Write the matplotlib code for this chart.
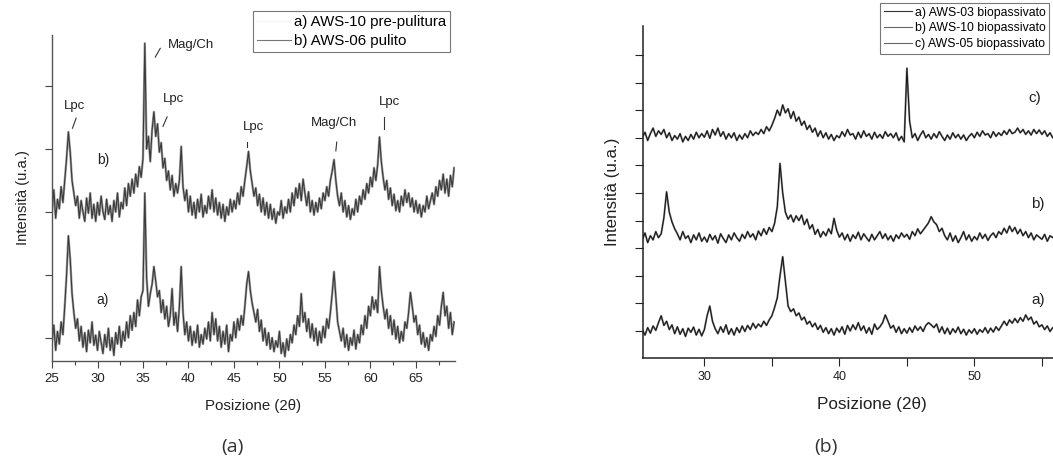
import numpy as np
import matplotlib.pyplot as plt
from matplotlib.lines import Line2D

plt.rcParams['font.family'] = ['Liberation Sans', 'DejaVu Sans']

# ---------------- dati (a): 25.0 -> 69.2, passo 0.2 ----------------
start_a = 25.0
step = 0.2
aws10_pre = [
    95, 120, 80, 110, 90,        # 25
    125, 105, 150, 200, 262,     # 26
    225, 170, 140, 115, 130,     # 27
    95, 118, 85, 108, 78,        # 28
    112, 92, 125, 88, 104,       # 29
    80, 110, 92, 75, 105,        # 30
    85, 115, 80, 100, 72,        # 31
    108, 90, 118, 85, 110,       # 32
    95, 125, 100, 135, 112,      # 33
    140, 118, 160, 135, 165,     # 34
    175, 330, 195, 150, 170,     # 35
    185, 213, 190, 165, 175,     # 36
    140, 160, 130, 150, 118,     # 37
    135, 178, 120, 140, 110,     # 38
    150, 213, 140, 105, 125,     # 39
    95, 118, 88, 110, 92,        # 40
    120, 85, 105, 90, 115,       # 41
    98, 125, 95, 140, 105,       # 42
    130, 95, 118, 85, 110,       # 43
    90, 120, 78, 105, 95,        # 44
    125, 100, 130, 112, 135,     # 45
    120, 150, 185, 205, 175,     # 46
    155, 140, 125, 145, 110,     # 47
    128, 95, 115, 88, 108,       # 48
    82, 100, 78, 95, 85,         # 49
    110, 75, 92, 70, 98,         # 50
    80, 105, 92, 120, 105,       # 51
    135, 118, 170, 125, 140,     # 52
    110, 130, 100, 122, 95,      # 53
    115, 88, 110, 92, 118,       # 54
    100, 130, 115, 140, 170,     # 55
    205, 165, 125, 110, 95,      # 56
    115, 85, 105, 80, 100,       # 57
    88, 112, 82, 105, 92,        # 58
    120, 105, 135, 115, 150,     # 59
    135, 165, 145, 160, 140,     # 60
    213, 175, 150, 130, 145,     # 61
    115, 135, 105, 128, 98,      # 62
    118, 92, 110, 95, 125,       # 63
    115, 140, 172, 150, 125,     # 64
    135, 105, 120, 90, 108,      # 65
    85, 100, 80, 105, 95,        # 66
    118, 102, 135, 120, 150,     # 67
    172, 135, 150, 115, 140,     # 68
    105, 125,                    # 69
]
aws06_pul = [
    300, 335, 290, 320, 305,     # 25
    340, 315, 350, 385, 427,     # 26
    395, 350, 330, 310, 325,     # 27
    290, 318, 300, 285, 322,     # 28
    298, 330, 290, 312, 285,     # 29
    315, 295, 325, 300, 288,     # 30
    320, 296, 310, 285, 318,     # 31
    300, 330, 292, 315, 305,     # 32
    338, 310, 345, 325, 352,     # 33
    330, 360, 340, 372, 355,     # 34
    385, 568, 400, 420, 380,     # 35
    430, 459, 420, 440, 395,     # 36
    410, 370, 385, 350, 365,     # 37
    335, 358, 325, 345, 330,     # 38
    350, 404, 340, 318, 335,     # 39
    300, 325, 295, 315, 290,     # 40
    320, 300, 328, 292, 310,     # 41
    298, 325, 305, 335, 300,     # 42
    322, 295, 315, 290, 312,     # 43
    285, 308, 295, 320, 300,     # 44
    318, 305, 330, 312, 340,     # 45
    325, 350, 372, 396, 365,     # 46
    345, 325, 338, 310, 328,     # 47
    300, 322, 295, 315, 290,     # 48
    312, 288, 305, 282, 300,     # 49
    295, 318, 290, 308, 298,     # 50
    320, 300, 330, 310, 338,     # 51
    322, 345, 318, 352, 330,     # 52
    310, 332, 300, 318, 295,     # 53
    315, 300, 322, 305, 330,     # 54
    318, 340, 325, 350, 365,     # 55
    383, 350, 325, 310, 330,     # 56
    300, 318, 292, 310, 288,     # 57
    305, 295, 320, 300, 325,     # 58
    312, 335, 320, 345, 330,     # 59
    355, 340, 370, 350, 375,     # 60
    419, 380, 355, 335, 350,     # 61
    320, 338, 310, 328, 302,     # 62
    318, 300, 325, 310, 335,     # 63
    315, 330, 308, 322, 300,     # 64
    318, 298, 312, 292, 310,     # 65
    300, 325, 305, 318, 330,     # 66
    312, 340, 325, 350, 335,     # 67
    360, 330, 352, 325, 358,     # 68
    340, 370,                    # 69
]
labels_a = ['a) AWS-10 pre-pulitura', 'b) AWS-06 pulito']
xticks_a = [25, 30, 35, 40, 45, 50, 55, 60, 65]
# picchi annotati: (testo, x testo, y testo, x1, y1, x2, y2)
peaks_a = [
    ('Lpc', 27.5, 468, 27.65, 449, 27.25, 433),
    ('Mag/Ch', 40.3, 565, 36.9, 560, 36.35, 546),
    ('Lpc', 38.3, 479, 37.65, 451, 37.2, 436),
    ('Lpc', 47.1, 435, 46.45, 411, 46.45, 403),
    ('Mag/Ch', 56.0, 441, 56.3, 411, 56.2, 397),
    ('Lpc', 62.1, 475, 61.5, 451, 61.5, 432),
]

# ---------------- dati (b): 25.4 -> 56.2, passo 0.2 ----------------
start_b = 25.4
aws03_bio = [
    5, -15, 12,                  # 25
    -8, 18, 2, 30, 55,           # 26
    20, 35, 5, 22, -10,          # 27
    15, -12, 8, -20, 10,         # 28
    -5, 14, -15, 6, -18,         # 29
    5, 55, 90, 35, 8,            # 30
    -10, 15, -5, 22, -12,        # 31
    8, -15, 12, -6, 18,          # 32
    -2, 20, 5, 28, 10,           # 33
    25, 15, 35, 20, 40,          # 34
    55, 85, 120, 200, 269,       # 35
    180, 90, 70, 80, 55,         # 36
    65, 40, 50, 25, 35,          # 37
    15, 28, 5, 20, -5,           # 38
    12, -10, 8, -15, 10,         # 39
    -5, 15, -12, 20, 0,          # 40
    22, 5, 30, 2, 18,            # 41
    -8, 12, -12, 25, 5,          # 42
    15, 30, 58, 35, 10,          # 43
    20, -5, 15, -10, 8,          # 44
    -8, 12, -5, 18, 2,           # 45
    15, -2, 20, 30, 22,          # 46
    12, 25, -5, 15, -10,         # 47
    10, -12, 8, -6, 14,          # 48
    -10, 6, -15, 4, -8,          # 49
    8, -12, 5, -5, 12,           # 50
    -8, 10, -4, 15, 2,           # 51
    18, 35, 20, 40, 28,          # 52
    45, 30, 48, 35, 58,          # 53
    40, 50, 25, 35, 15,          # 54
    22, 5, 18, -2, 12,           # 55
    5, 15,                       # 56
]
aws10_bio = [
    330, 355, 320,               # 25
    345, 330, 360, 338, 352,     # 26
    410, 504, 430, 395, 370,     # 27
    352, 330, 360, 335, 345,     # 28
    320, 348, 330, 355, 325,     # 29
    340, 322, 350, 330, 345,     # 30
    318, 352, 335, 320, 348,     # 31
    330, 355, 338, 325, 350,     # 32
    335, 360, 340, 352, 330,     # 33
    362, 345, 370, 350, 375,     # 34
    360, 390, 450, 607, 500,     # 35
    430, 405, 420, 395, 417,     # 36
    400, 420, 385, 405, 370,     # 37
    385, 350, 368, 340, 360,     # 38
    345, 370, 352, 408, 365,     # 39
    340, 355, 330, 350, 325,     # 40
    348, 335, 358, 330, 352,     # 41
    338, 325, 350, 330, 345,     # 42
    360, 335, 352, 330, 345,     # 43
    325, 348, 335, 355, 340,     # 44
    350, 332, 360, 345, 370,     # 45
    352, 365, 378, 392, 414,     # 46
    395, 385, 360, 372, 345,     # 47
    330, 355, 325, 345, 320,     # 48
    338, 360, 330, 348, 325,     # 49
    342, 330, 355, 335, 350,     # 50
    328, 345, 355, 338, 360,     # 51
    350, 372, 355, 380, 360,     # 52
    375, 352, 368, 345, 360,     # 53
    338, 355, 330, 348, 340,     # 54
    332, 350, 325, 345, 338,     # 55
    352, 335,                    # 56
]
aws05_bio = [
    700, 720, 690,               # 25
    715, 735, 705, 725, 712,     # 26
    730, 700, 718, 690, 708,     # 27
    695, 715, 685, 705, 690,     # 28
    712, 695, 720, 700, 715,     # 29
    702, 725, 698, 730, 710,     # 30
    735, 705, 722, 695, 715,     # 31
    700, 718, 690, 710, 695,     # 32
    715, 700, 725, 708, 720,     # 33
    712, 730, 715, 740, 725,     # 34
    745, 770, 800, 780, 819,     # 35
    790, 805, 770, 795, 760,     # 36
    775, 745, 760, 730, 745,     # 37
    720, 735, 705, 725, 700,     # 38
    718, 695, 712, 690, 708,     # 39
    700, 722, 705, 730, 710,     # 40
    715, 695, 720, 700, 725,     # 41
    705, 715, 695, 720, 700,     # 42
    712, 698, 722, 705, 715,     # 43
    700, 718, 690, 705, 685,     # 44
    952, 760, 700, 715, 690,     # 45
    710, 725, 700, 712, 695,     # 46
    715, 700, 722, 705, 690,     # 47
    710, 695, 718, 700, 712,     # 48
    695, 710, 690, 705, 715,     # 49
    700, 720, 705, 725, 710,     # 50
    715, 700, 722, 705, 718,     # 51
    708, 725, 712, 730, 715,     # 52
    720, 735, 718, 730, 712,     # 53
    725, 710, 730, 715, 728,     # 54
    712, 725, 705, 718, 700,     # 55
    715, 705,                    # 56
]
labels_b = ['a) AWS-03 biopassivato', 'b) AWS-10 biopassivato', 'c) AWS-05 biopassivato']
xticks_b = [30, 40, 50]

# ---------------- figura ----------------
fig = plt.figure(figsize=(10.53, 4.59), dpi=100)

# ===== pannello (a) =====
ax1 = fig.add_axes([0.0494, 0.2135, 0.3827, 0.710])
for serie in [aws10_pre, aws06_pul]:
    xs = start_a + step * np.arange(len(serie))
    ax1.plot(xs, serie, color='#a0a0a0', lw=1.7)
    ax1.plot(xs, serie, color='#3a3a3a', lw=0.8)
ax1.set_xlim(25, 69.3)
ax1.set_ylim(63, 581)
ax1.set_xticks(xticks_a)
ax1.set_xticks(np.array(xticks_a) + 2.5, minor=True)
ax1.set_yticks([100, 200, 300, 400, 500])
ax1.set_yticklabels([])
ax1.tick_params(axis='both', which='both', direction='out', colors='#444444',
                labelcolor='#222222', labelsize=9.5, length=5, width=0.8)
ax1.tick_params(axis='x', which='minor', length=3)
for s in ['top', 'right']:
    ax1.spines[s].set_visible(False)
for s in ['left', 'bottom']:
    ax1.spines[s].set_color('#555555')
    ax1.spines[s].set_linewidth(1.0)
ax1.set_xlabel('Posizione (2θ)', fontsize=10.8, labelpad=10, color='#222222')
ax1.set_ylabel('Intensità (u.a.)', fontsize=10.6, labelpad=7, color='#222222')

for txt, tx, ty, x1, y1, x2, y2 in peaks_a:
    ax1.text(tx, ty, txt, ha='center', va='center', fontsize=9.5, color='#222222')
    ax1.plot([x1, x2], [y1, y2], color='#333333', lw=0.8)
ax1.text(30.6, 383, 'b)', ha='center', va='center', fontsize=10, color='#222222')
ax1.text(30.6, 160, 'a)', ha='center', va='center', fontsize=10, color='#222222')

handles_a = [Line2D([], [], color='#f4f4f4', lw=0.8),
             Line2D([], [], color='#777777', lw=0.8)]
leg1 = fig.legend(handles_a, labels_a, loc='upper left',
                  bbox_to_anchor=(253 / 1053, 1 - 11 / 459), fontsize=10.8,
                  frameon=True, fancybox=False, borderpad=0.25, labelspacing=0.35,
                  handlelength=2.3, handletextpad=0.2, borderaxespad=0)
leg1.get_frame().set_edgecolor('#555555')
leg1.get_frame().set_linewidth(0.8)

# ===== pannello (b) =====
ax2 = fig.add_axes([0.6106, 0.2207, 0.434, 0.7227])
for serie in [aws03_bio, aws10_bio, aws05_bio]:
    xs = start_b + step * np.arange(len(serie))
    ax2.plot(xs, serie, color='#808080', lw=1.4)
    ax2.plot(xs, serie, color='#111111', lw=0.7)
ax2.set_xlim(25.45, 59.3)
ax2.set_ylim(-97, 1105)
ax2.set_xticks(xticks_b)
ax2.set_xticks([35, 45, 55], minor=True)
ax2.set_yticks(np.arange(0, 1001, 100))
ax2.set_yticklabels([])
ax2.tick_params(axis='both', which='both', direction='out', colors='#222222',
                labelcolor='#222222', labelsize=9, length=6, width=0.8)
for s in ['top', 'right']:
    ax2.spines[s].set_visible(False)
for s in ['left', 'bottom']:
    ax2.spines[s].set_color('#222222')
    ax2.spines[s].set_linewidth(1.1)
ax2.set_xlabel('Posizione (2θ)', fontsize=12.3, labelpad=10, color='#222222')
ax2.set_ylabel('Intensità (u.a.)', fontsize=12.2, labelpad=7, color='#222222')
ax2.text(54.5, 844, 'c)', ha='center', va='center', fontsize=11, color='#222222')
ax2.text(54.7, 460, 'b)', ha='center', va='center', fontsize=11, color='#222222')
ax2.text(54.75, 112, 'a)', ha='center', va='center', fontsize=11, color='#222222')

handles_b = [Line2D([], [], color='#333333', lw=0.8),
             Line2D([], [], color='#666666', lw=0.8),
             Line2D([], [], color='#666666', lw=0.8)]
leg2 = fig.legend(handles_b, labels_b, loc='upper left',
                  bbox_to_anchor=(880 / 1053, 1 - 3 / 459), fontsize=8.8,
                  frameon=True, fancybox=False, borderpad=0.3, labelspacing=0.3,
                  handlelength=2.3, handletextpad=0.25, borderaxespad=0)
leg2.get_frame().set_edgecolor('#555555')
leg2.get_frame().set_linewidth(0.8)

# didascalie
fig.text(232 / 1053, 1 - 447 / 459, '(a)', ha='center', va='center',
         fontsize=14, color='#333333', family=['Open Sans', 'DejaVu Sans'])
fig.text(826 / 1053, 1 - 447 / 459, '(b)', ha='center', va='center',
         fontsize=14, color='#333333', family=['Open Sans', 'DejaVu Sans'])

fig.savefig('out.png', dpi=100)
